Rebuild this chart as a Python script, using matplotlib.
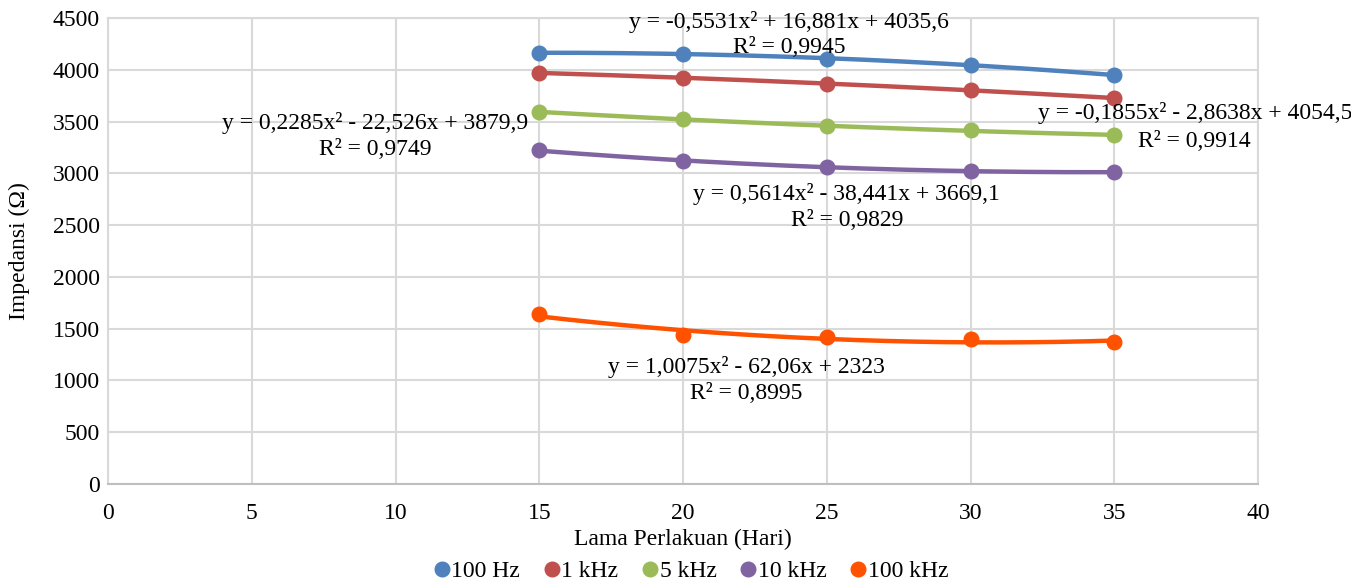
import numpy as np
import matplotlib
matplotlib.use("Agg")
import matplotlib.pyplot as plt
from matplotlib.lines import Line2D

plt.rcParams['font.family'] = ['Liberation Serif', 'DejaVu Serif']

days = [15, 20, 25, 30, 35]
series_names = ["100 Hz", "1 kHz", "5 kHz", "10 kHz", "100 kHz"]
imp_100hz = [4165, 4148, 4108, 4050, 3948]
imp_1khz = [3970, 3922, 3865, 3805, 3725]
imp_5khz = [3595, 3520, 3455, 3415, 3370]
imp_10khz = [3225, 3120, 3065, 3025, 3010]
imp_100khz = [1640, 1435, 1415, 1400, 1375]

# quadratic trendline coefficients (a, b, c) and R² per series
coef_100hz = (-0.5531, 16.881, 4035.6)
coef_1khz = (-0.1855, -2.8638, 4054.5)
coef_5khz = (0.2285, -22.526, 3879.9)
coef_10khz = (0.5614, -38.441, 3669.1)
coef_100khz = (1.0075, -62.06, 2323.0)
r2_values = [0.9945, 0.9914, 0.9749, 0.9829, 0.8995]

colors = ["#4F81BD", "#C0504D", "#9BBB59", "#8064A2", "#FF5200"]
values = [imp_100hz, imp_1khz, imp_5khz, imp_10khz, imp_100khz]
coefs = [coef_100hz, coef_1khz, coef_5khz, coef_10khz, coef_100khz]
label_pos = [(23.7, 4462, 4212), (37.8, 3582, 3312), (9.3, 3486, 3226),
             (25.7, 2800, 2540), (22.2, 1130, 878)]

FS = 17


def fmt(v, digits=None):
    s = f"{abs(v):g}" if digits is None else f"{abs(v):.{digits}f}"
    return s.replace(".", ",")


def equation(a, b, c):
    sa = ("-" if a < 0 else "") + fmt(a)
    sb = ("- " if b < 0 else "+ ") + fmt(b)
    sc = ("- " if c < 0 else "+ ") + fmt(c)
    return f"y = {sa}x² {sb}x {sc}"


fig = plt.figure(figsize=(13.51, 5.86), dpi=100)
ax = fig.add_axes([108 / 1351, 1 - 484 / 586, 1150 / 1351, 466 / 586])

xs = np.linspace(15, 35, 200)
for name, vals, (a, b, c), col in zip(series_names, values, coefs, colors):
    ax.plot(xs, a * xs ** 2 + b * xs + c, color=col, lw=3.2, zorder=3,
            solid_capstyle="round")
    ax.plot(days, vals, "o", color=col, ms=10.5, zorder=4, label=name)

for (a, b, c), r2, (px, py1, py2) in zip(coefs, r2_values, label_pos):
    ax.text(px, py1, equation(a, b, c), ha="center", va="center",
            fontsize=FS, zorder=5, clip_on=False)
    ax.text(px, py2, f"R² = {fmt(r2, 4)}", ha="center", va="center",
            fontsize=FS, zorder=5, clip_on=False)

ax.set_xlim(0, 40)
ax.set_ylim(0, 4500)
ax.set_xticks(range(0, 41, 5))
ax.set_yticks(range(0, 4501, 500))
ax.grid(True, color="#D9D9D9", lw=1.5)
ax.set_axisbelow(True)
for s in ax.spines.values():
    s.set_color("#D9D9D9")
    s.set_linewidth(1.5)
ax.spines["bottom"].set_color("#BFBFBF")
ax.tick_params(length=0, labelsize=FS)
ax.tick_params(axis="x", pad=14)
ax.tick_params(axis="y", pad=6)
ax.set_xlabel("Lama Perlakuan (Hari)", fontsize=FS, labelpad=3)
ax.set_ylabel("Impedansi (Ω)", fontsize=FS, labelpad=16)

handles = [Line2D([], [], ls="none", marker="o", color=c, ms=10.5) for c in colors]
fig.legend(handles, series_names, loc="center", bbox_to_anchor=(688 / 1351, 1 - 571 / 586),
           ncol=5, frameon=False, fontsize=FS, handletextpad=-0.2,
           columnspacing=0.75, handlelength=1.2, borderpad=0)

fig.savefig("out.png", dpi=100)
